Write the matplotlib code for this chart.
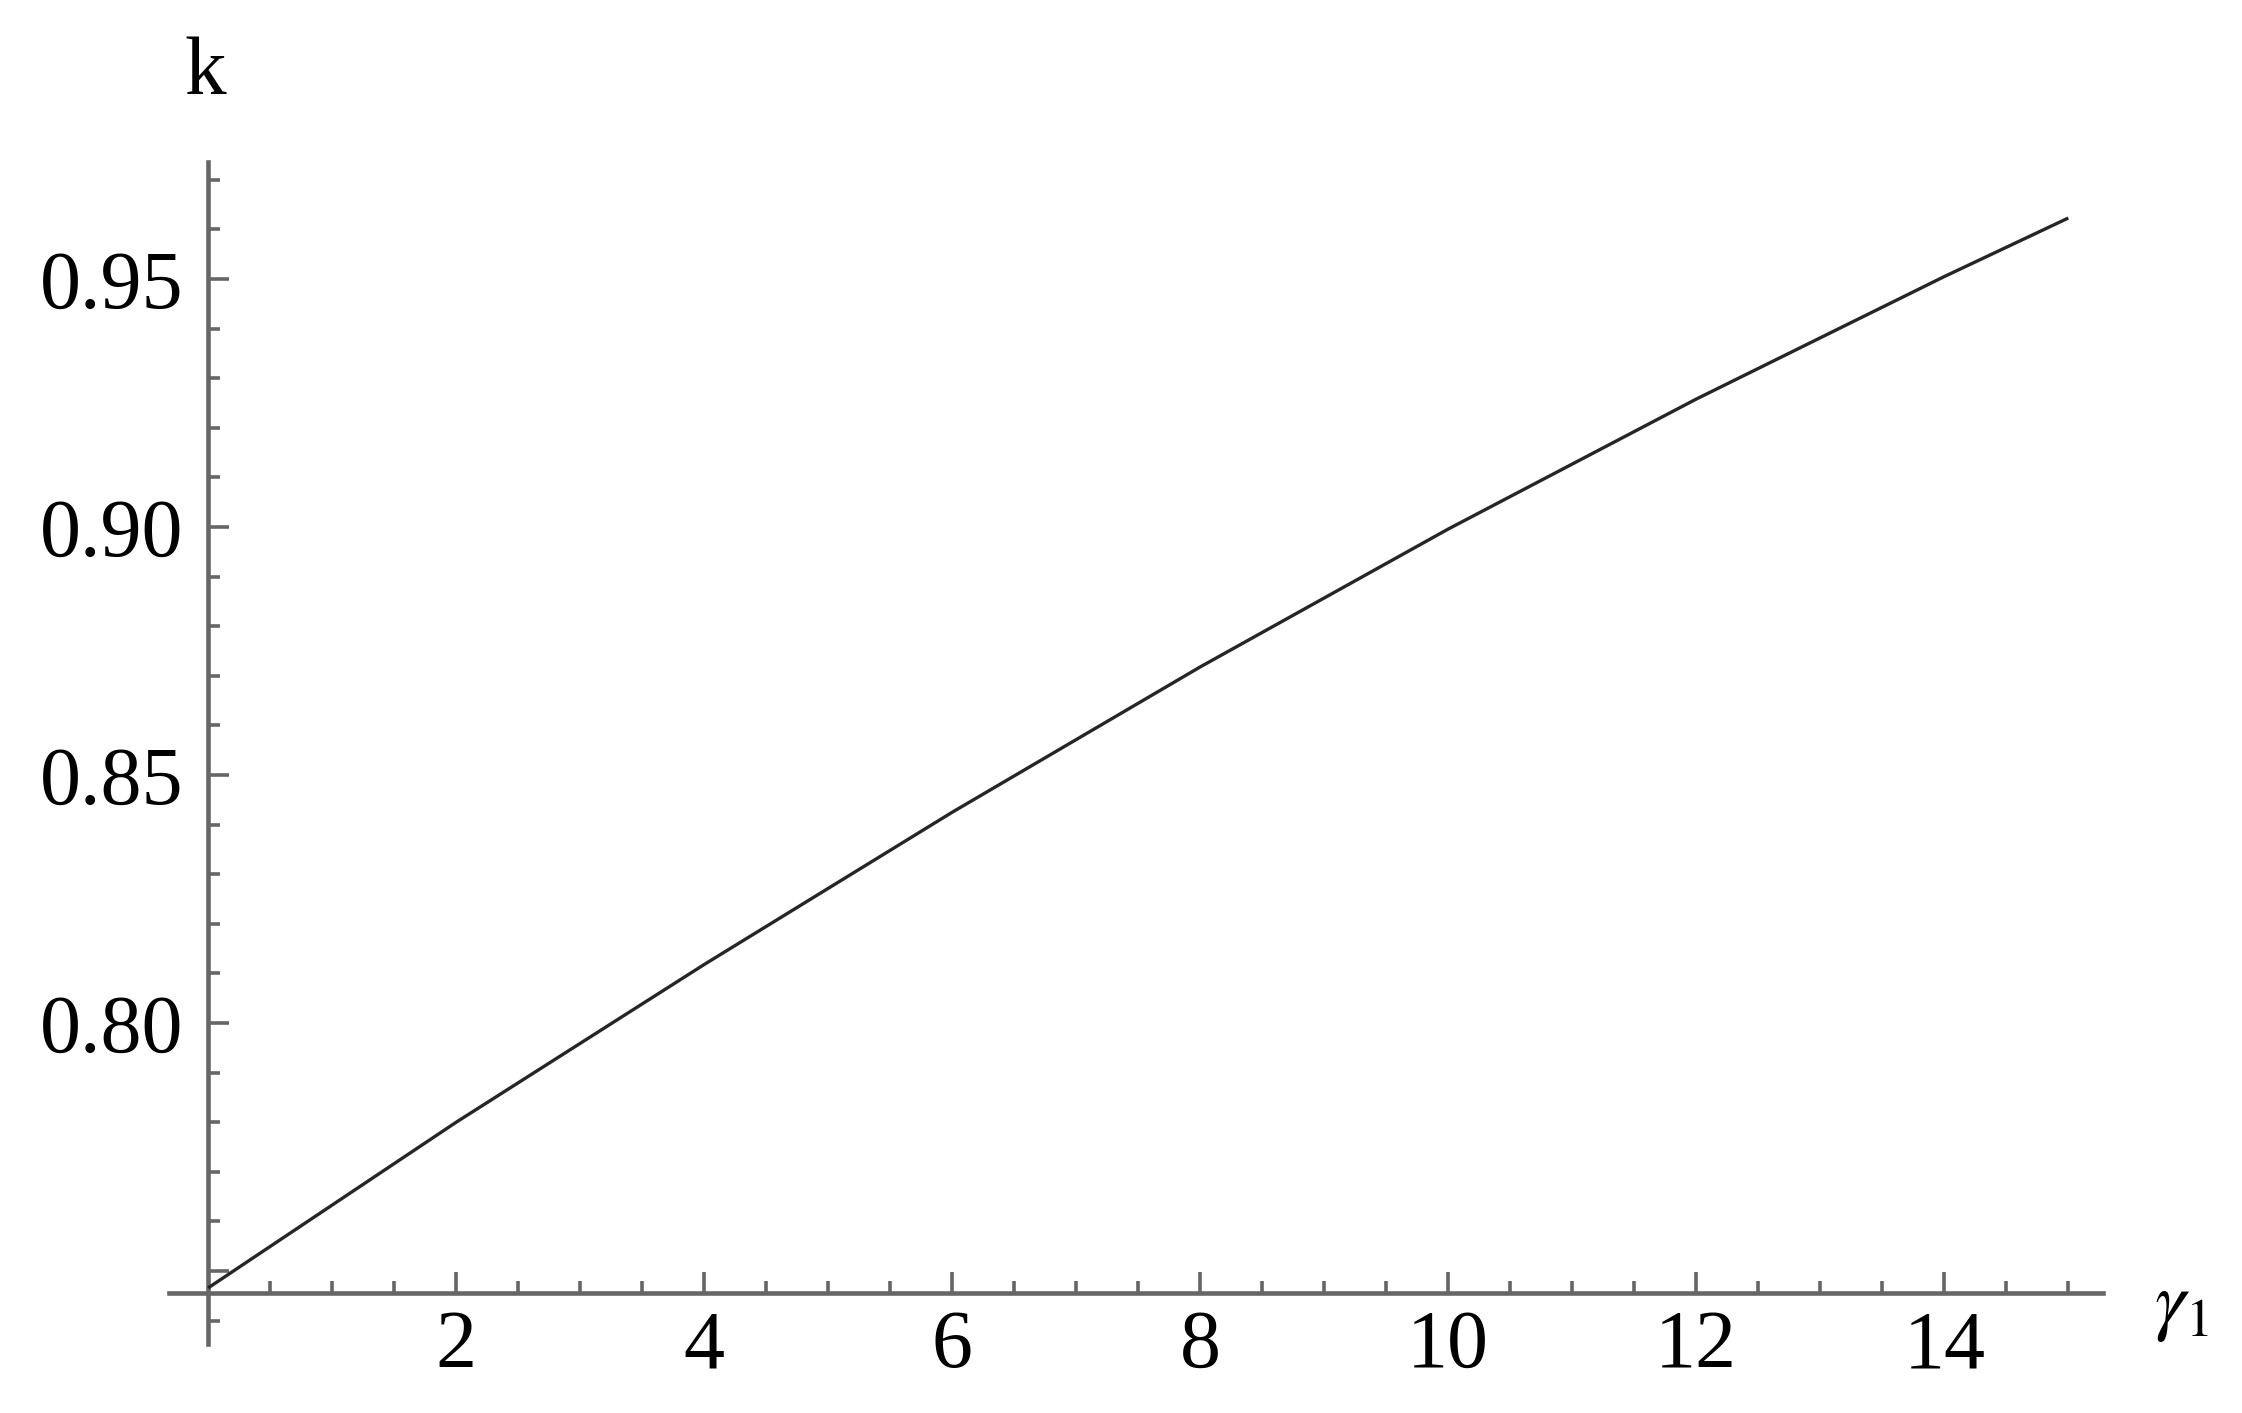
import matplotlib
matplotlib.use("Agg")
import matplotlib.pyplot as plt
import numpy as np

# data
gamma1 = [0, 2, 4, 6, 8, 10, 12, 14, 15]
k_vals = [0.7466, 0.7800, 0.8118, 0.8425, 0.8718, 0.8996, 0.9258, 0.9505, 0.9623]

x_major = [2, 4, 6, 8, 10, 12, 14]
x_major_labels = ["2", "4", "6", "8", "10", "12", "14"]
y_major = [0.75, 0.80, 0.85, 0.90, 0.95]
y_major_labels = ["", "0.80", "0.85", "0.90", "0.95"]

W, H = 2242, 1413
dpi = 100
fig = plt.figure(figsize=(W / dpi, H / dpi), dpi=dpi)
fig.patch.set_facecolor("white")

ax = fig.add_axes([169 / W, (H - 1344) / H, (2103 - 169) / W, (1344 - 162) / H])
ax.set_facecolor("white")
ax.set_xlim(-0.315, 15.28)
ax.set_ylim(0.7353, 0.9736)

axis_col = "#666666"
ax.plot(gamma1, k_vals, color="#262626", lw=2.4, solid_capstyle="butt",
        solid_joinstyle="round", zorder=3)

for s in ("top", "right"):
    ax.spines[s].set_visible(False)
ax.spines["left"].set_position(("data", 0))
ax.spines["bottom"].set_position(("data", 0.7456))
for s in ("left", "bottom"):
    ax.spines[s].set_color(axis_col)
    ax.spines[s].set_linewidth(3.3)

ax.set_xticks(x_major)
ax.set_xticklabels(x_major_labels)
ax.set_xticks([v for v in np.arange(0.5, 15.01, 0.5) if v not in x_major], minor=True)
ax.set_yticks(y_major)
ax.set_yticklabels(y_major_labels)
ax.set_yticks([round(v, 2) for v in np.arange(0.74, 0.971, 0.01)
               if round(v, 2) not in [round(m, 2) for m in y_major]], minor=True)

serif = ["Liberation Serif", "DejaVu Serif"]
ax.tick_params(which="both", direction="in", color=axis_col, width=2.6)
ax.tick_params(which="major", length=15)
ax.tick_params(which="minor", length=8.5)
ax.tick_params(axis="x", which="major", pad=12)
ax.tick_params(axis="y", which="major", pad=18)
for lab in ax.get_xticklabels() + ax.get_yticklabels():
    lab.set_family(serif)
    lab.set_fontsize(59)
    lab.set_color("black")

fig.text(205 / W, 1 - 74 / H, "k", family=serif, fontsize=60, ha="center", va="center")
plt.rcParams["mathtext.fontset"] = "stix"
fig.text(2182 / W, 1 - 1306 / H, r"$\gamma_1$", fontsize=56, ha="center", va="center")

fig.savefig("out.png", dpi=dpi, facecolor="white")
